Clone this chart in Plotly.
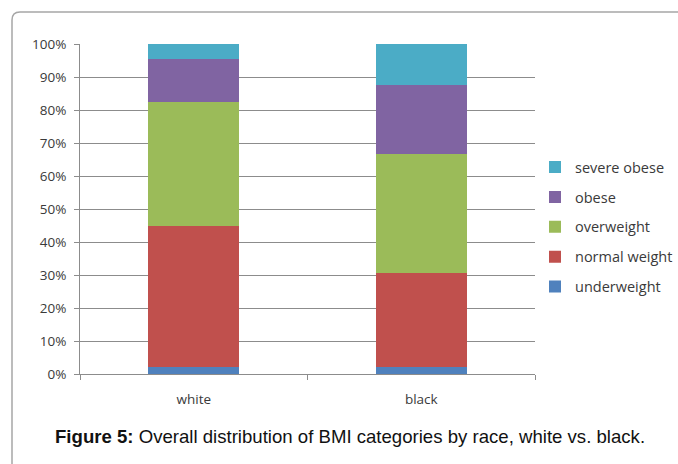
import plotly.graph_objects as go

# BMI distribution by race (fractions of each group)
races = ["white", "black"]
categories = ["underweight", "normal weight", "overweight", "obese", "severe obese"]
underweight = [0.020, 0.020]
normal_weight = [0.430, 0.287]
overweight = [0.375, 0.360]
obese = [0.131, 0.210]
severe_obese = [0.044, 0.123]
colors = ["#4F81BD", "#C0504D", "#9BBB59", "#8064A2", "#4BACC6"]

series = [underweight, normal_weight, overweight, obese, severe_obese]

fig = go.Figure()
for i, (name, vals, col) in enumerate(zip(categories, series, colors)):
    fig.add_trace(go.Bar(
        x=races, y=vals, name=name, marker=dict(color=col, line=dict(width=0)),
        legendgroup=name, legendrank=1000 - i,
    ))

axis_font = dict(family="'Open Sans', Lato, sans-serif", size=13.5, color="#3a3a3a")
legend_font = dict(family="'Open Sans', Lato, sans-serif", size=14.5, color="#3a3a3a")

fig.update_layout(
    barmode="stack",
    bargap=0.6,
    width=678, height=464,
    margin=dict(l=80, r=143, t=44, b=90, autoexpand=False),
    paper_bgcolor="white",
    plot_bgcolor="white",
    font=axis_font,
    legend=dict(
        traceorder="grouped",
        tracegroupgap=8,
        x=1.0, xanchor="left",
        y=0.445, yanchor="middle",
        font=legend_font,
        itemwidth=30,
    ),
    xaxis=dict(
        type="category",
        showline=True, linecolor="#8c8c8c", linewidth=1,
        ticks="outside", tickson="boundaries", ticklen=5, tickcolor="#8c8c8c",
        showgrid=False, tickfont=axis_font, ticklabelstandoff=13,
    ),
    yaxis=dict(
        range=[0, 1], dtick=0.1, tickformat=".0%",
        showline=True, linecolor="#8c8c8c", linewidth=1,
        ticks="outside", ticklen=5, tickcolor="#8c8c8c",
        showgrid=True, gridcolor="#8c8c8c", gridwidth=1,
        zeroline=False, tickfont=axis_font, ticklabelstandoff=5,
    ),
    showlegend=True,
)

# Frame around the figure panel (rounded top-left corner)
fig.add_shape(
    type="path", xref="paper", yref="paper",
    path="M -0.14945 -0.30 L -0.14945 1.07273 Q -0.14945 1.09697 -0.13187 1.09697 L 1.35 1.09697",
    line=dict(color="#a6a6a6", width=1.5),
)

# Figure caption
fig.add_annotation(
    xref="paper", yref="paper", x=0.5934, y=-0.188,
    xanchor="center", yanchor="middle", showarrow=False,
    text="<b>Figure 5:</b> Overall distribution of BMI categories by race, white vs. black.",
    font=dict(family="'Liberation Sans', Arial, sans-serif", size=18.6, color="#111111"),
)

fig.write_html("out.html")
